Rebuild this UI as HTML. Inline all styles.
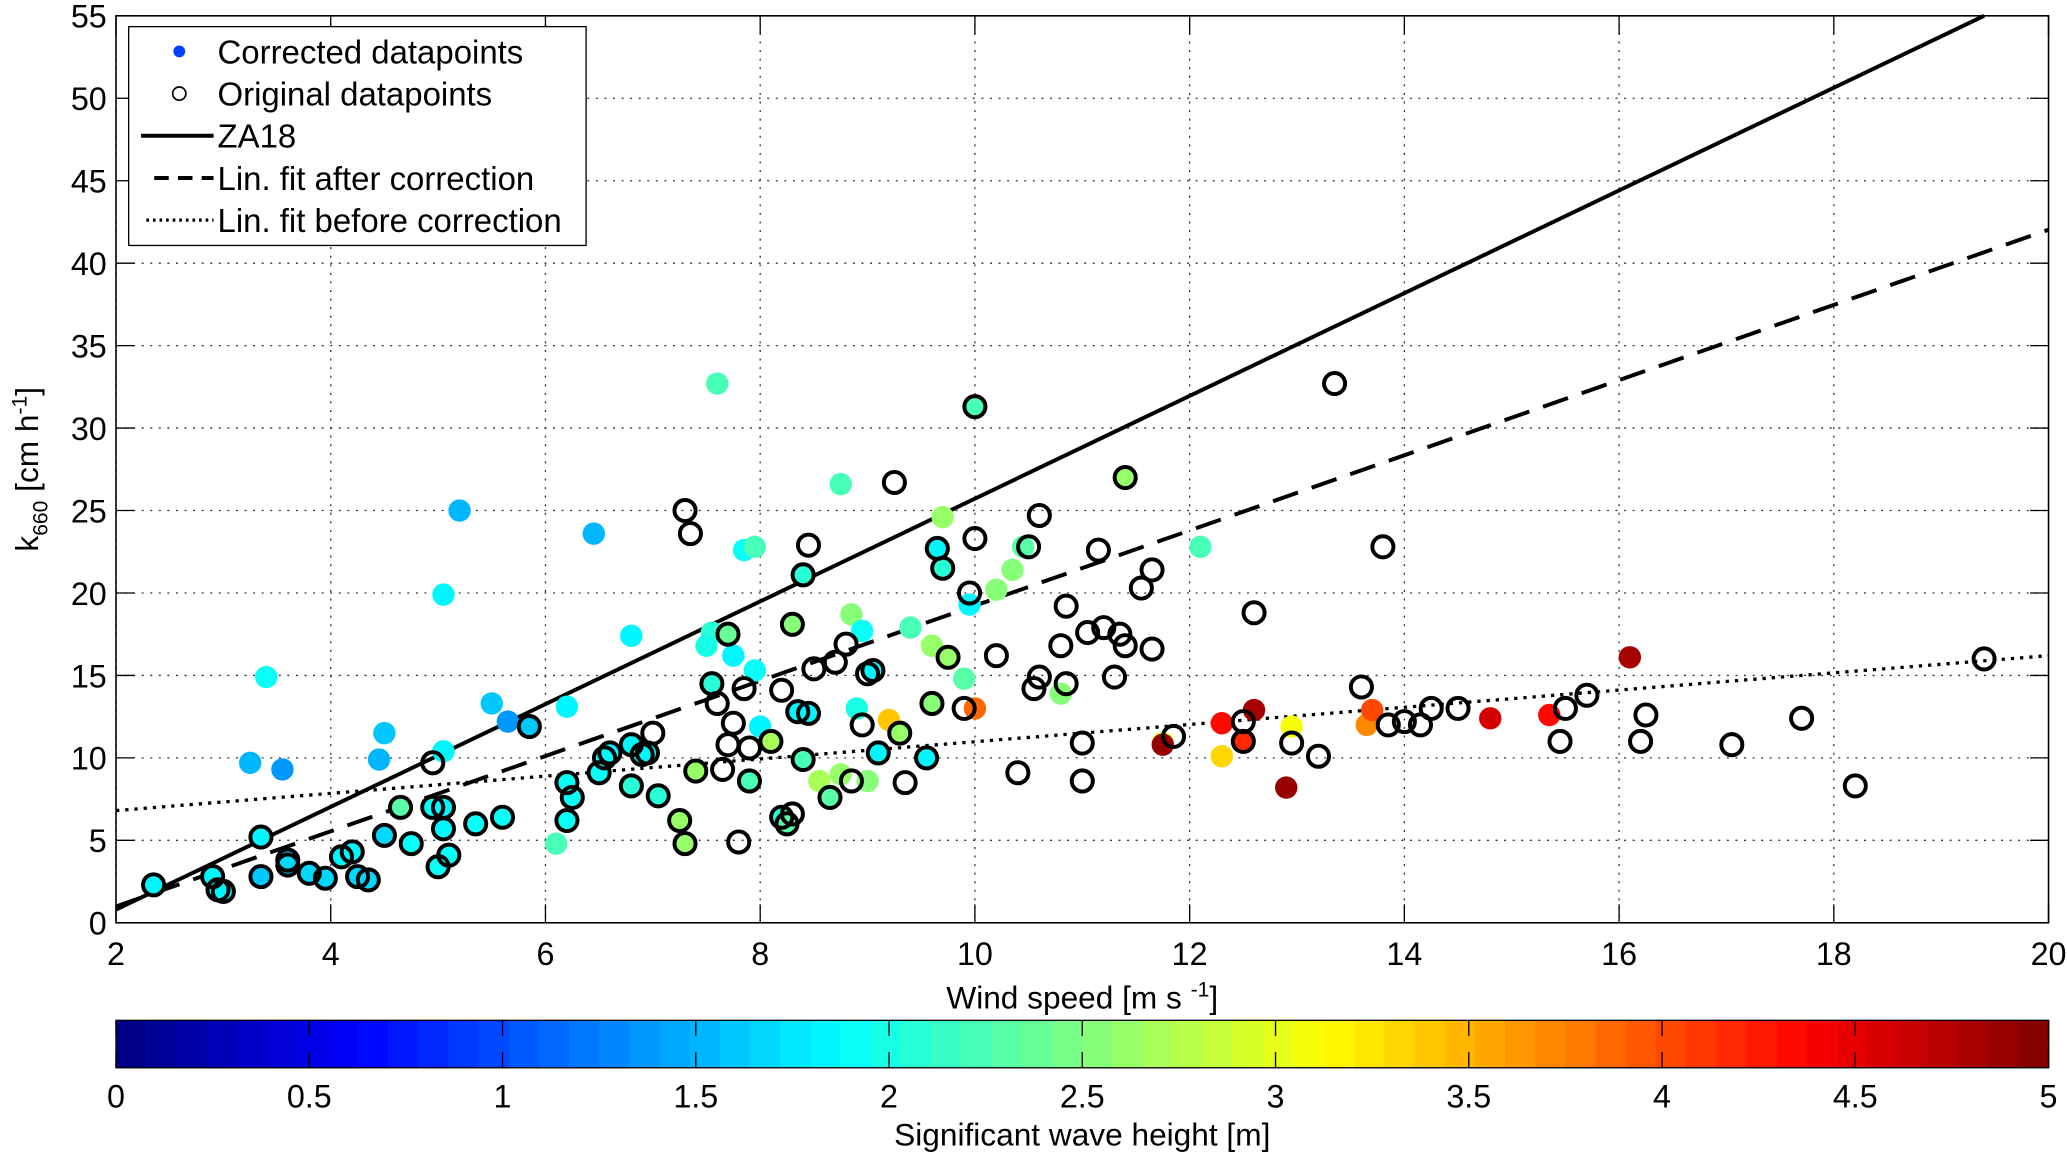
<!DOCTYPE html>
<html><head><meta charset="utf-8"><style>html,body{margin:0;padding:0;background:#fff}svg{display:block}text{font-family:"Liberation Sans",Arial,sans-serif;fill:#000}</style></head>
<body>
<svg id="chart" width="2067" height="1154" viewBox="0 0 1568 875.4" xmlns="http://www.w3.org/2000/svg">
<g id="grid"></g>
<g id="lines"></g>
<g id="filled"></g>
<g id="open"></g>
<g id="axes"></g>
<g id="cbar"></g>
<g>
<rect x="97.6" y="20.2" width="347" height="166" fill="#fff" stroke="#000" stroke-width="1"/>
<circle cx="136" cy="39" r="4.5" fill="#0040ff"/>
<text x="165" y="48" font-size="25">Corrected datapoints</text>
<circle cx="136" cy="71" r="5" fill="none" stroke="#000" stroke-width="1.3"/>
<text x="165" y="80" font-size="25">Original datapoints</text>
<line x1="107" y1="103" x2="162" y2="103" stroke="#000" stroke-width="3"/>
<text x="165" y="112" font-size="25">ZA18</text>
<line x1="117" y1="135" x2="162" y2="135" stroke="#000" stroke-width="3" stroke-dasharray="11,7"/>
<text x="165" y="144" font-size="25">Lin. fit after correction</text>
<line x1="111" y1="167" x2="162" y2="167" stroke="#000" stroke-width="2.5" stroke-dasharray="2,3"/>
<text x="165" y="176" font-size="25">Lin. fit before correction</text>
</g>
</svg>
<script>
const xTicks=[2,4,6,8,10,12,14,16,18,20];
const yTicks=[0,5,10,15,20,25,30,35,40,45,50,55];
const cTicks=[0,0.5,1,1.5,2,2.5,3,3.5,4,4.5,5];
const cTickLabels=["0","0.5","1","1.5","2","2.5","3","3.5","4","4.5","5"];
const lineSlopes=[3.115,2.28,0.522];
const lineIntercepts=[-5.43,-3.57,5.76];
const origX=[2.35,2.9,2.95,3.0,3.35,3.35,3.6,3.6,3.8,3.95,4.1,4.2,4.25,4.35,4.5,4.65,4.75,4.95,4.95,5.0,5.05,5.05,5.1,5.35,5.6,5.85,6.2,6.2,6.25,6.5,6.55,6.6,6.8,6.8,6.9,6.95,7.0,7.05,7.25,7.3,7.3,7.35,7.4,7.55,7.6,7.65,7.7,7.7,7.75,7.8,7.85,7.9,7.9,8.1,8.2,8.2,8.25,8.3,8.3,8.35,8.4,8.4,8.45,8.45,8.5,8.65,8.7,8.8,8.85,8.95,9.0,9.05,9.1,9.25,9.3,9.35,9.55,9.6,9.65,9.7,9.75,9.9,9.95,10.0,10.0,10.2,10.4,10.5,10.55,10.6,10.6,10.8,10.85,10.85,11.0,11.0,11.05,11.15,11.2,11.3,11.35,11.4,11.4,11.55,11.65,11.65,11.85,12.5,12.5,12.6,12.95,13.2,13.35,13.6,13.8,13.85,14.0,14.15,14.25,14.5,15.45,15.5,15.7,16.2,16.25,17.05,17.7,18.2,19.4];
const origY=[2.3,2.8,2.0,1.9,5.2,2.8,3.5,3.8,3.0,2.7,4.0,4.3,2.8,2.6,5.3,7.0,4.8,9.7,7.0,3.4,7.0,5.7,4.1,6.0,6.4,11.9,8.5,6.2,7.6,9.1,10.0,10.3,10.8,8.3,10.2,10.3,11.5,7.7,6.2,4.8,25.0,23.6,9.2,14.5,13.3,9.3,10.8,17.5,12.1,4.9,14.2,10.6,8.6,11.0,6.4,14.1,6.0,6.6,18.1,12.8,21.1,9.9,12.7,22.9,15.4,7.6,15.8,16.9,8.6,12.0,15.1,15.3,10.3,26.7,11.5,8.5,10.0,13.3,22.7,21.5,16.1,13.0,20.0,23.3,31.3,16.2,9.1,22.8,14.2,24.7,14.9,16.8,19.2,14.5,10.9,8.6,17.6,22.6,17.9,14.9,17.5,16.8,27.0,20.3,21.4,16.6,11.3,12.2,11.0,18.8,10.9,10.1,32.7,14.3,22.8,12.0,12.2,12.0,13.0,13.0,11.0,13.0,13.8,11.0,12.6,10.8,12.4,8.3,16.0];
const corrX=[2.35,2.9,2.95,3.0,3.35,3.35,3.6,3.6,3.8,3.95,4.1,4.2,4.25,4.35,4.5,4.65,4.75,4.95,5.0,5.05,5.05,5.1,5.35,5.6,5.85,6.2,6.2,6.25,6.5,6.55,3.25,3.4,3.55,4.45,4.5,5.05,5.05,5.2,5.5,5.65,6.1,6.2,6.45,6.8,7.6,7.55,7.5,7.75,7.85,7.95,7.95,8.0,8.75,8.85,8.95,8.9,9.2,9.0,8.75,8.55,9.4,9.6,9.7,9.9,9.95,10.0,10.2,10.35,10.45,10.8,11.75,11.75,12.1,12.3,12.3,12.5,12.6,12.9,12.95,13.65,13.7,14.8,15.35,16.1,7.25,7.3,7.4,7.55,7.7,7.9,8.1,8.2,8.25,8.3,8.35,8.4,8.4,8.45,8.65,9.05,9.1,9.3,9.55,9.6,9.65,9.7,9.75,10.0,11.4,6.6,6.8,6.9,6.95,7.05,6.8];
const corrY=[2.3,2.8,2.0,1.9,5.2,2.8,3.5,3.8,3.0,2.7,4.0,4.3,2.8,2.6,5.3,7.0,4.8,7.0,3.4,7.0,5.7,4.1,6.0,6.4,11.9,8.5,6.2,7.6,9.1,10.0,9.7,14.9,9.3,9.9,11.5,19.9,10.4,25.0,13.3,12.2,4.8,13.1,23.6,17.4,32.7,17.6,16.8,16.2,22.6,22.8,15.3,11.9,26.6,18.7,17.7,13.0,12.3,8.6,9.0,8.6,17.9,16.8,24.6,14.8,19.3,13.0,20.2,21.4,22.8,13.9,10.9,10.8,22.8,12.1,10.1,11.0,12.9,8.2,11.9,12.0,12.9,12.4,12.6,16.1,6.2,4.8,9.2,14.5,17.5,8.6,11.0,6.4,6.0,18.1,12.8,9.9,21.1,12.7,7.6,15.3,10.3,11.5,10.0,13.3,22.7,21.5,16.1,31.3,27.0,10.3,8.3,10.2,10.3,7.7,10.8];
const corrH=[1.8,1.8,1.8,1.8,1.8,1.6,1.7,1.7,1.7,1.7,1.8,1.8,1.7,1.7,1.7,2.3,1.9,1.9,1.9,1.8,1.8,1.9,1.9,1.9,1.6,1.9,1.9,1.9,1.9,1.9,1.5,1.9,1.4,1.5,1.6,1.8,1.8,1.5,1.6,1.4,2.2,1.8,1.5,1.8,2.2,2.1,2.0,1.8,1.9,2.2,1.9,1.8,2.2,2.5,1.9,2.0,3.4,2.5,2.6,2.7,2.2,2.6,2.6,2.3,1.8,3.9,2.5,2.5,2.3,2.5,3.0,4.9,2.2,4.3,3.3,4.2,4.8,4.9,3.1,3.7,4.0,4.6,4.3,4.8,2.6,2.6,2.6,2.1,2.4,2.2,2.7,2.1,2.3,2.5,1.8,2.2,2.1,1.8,2.3,1.8,1.8,2.6,1.8,2.5,1.8,2.1,2.6,2.2,2.6,1.8,2.1,1.8,1.8,2.1,1.8];

const NS="http://www.w3.org/2000/svg";
const X0=88,X1=1554,Y0=700,Y1=12;
const sx=v=>X0+(v-2)/(20-2)*(X1-X0);
const sy=v=>Y0-(v/55)*(Y0-Y1);
const CB0=88,CB1=1554,CBT=774,CBB=810;
const sc=v=>CB0+v/5*(CB1-CB0);
function mk(tag,attrs,parent){const e=document.createElementNS(NS,tag);for(const k in attrs)e.setAttribute(k,attrs[k]);parent.appendChild(e);return e;}
function jet(t){t=Math.max(0,Math.min(1,t));const f=x=>Math.round(255*Math.max(0,Math.min(1,1.5-Math.abs(4*t-x))));return `rgb(${f(3)},${f(2)},${f(1)})`;}
function jetH(h){const i=Math.min(63,Math.floor(h/5*64));return jet((i+0.5)/64);}
const grid=document.getElementById('grid'),axes=document.getElementById('axes'),lines=document.getElementById('lines');
xTicks.forEach(v=>{
 const g=mk('line',{x1:sx(v),x2:sx(v),y1:Y1,y2:Y0,stroke:'#333','stroke-width':1,'stroke-dasharray':'1.5,5'},grid);
 
 
 mk('line',{x1:sx(v),x2:sx(v),y1:Y0,y2:Y0-14,stroke:'#000','stroke-width':1},axes);
 mk('line',{x1:sx(v),x2:sx(v),y1:Y1,y2:Y1+14,stroke:'#000','stroke-width':1},axes);
 const t=mk('text',{x:sx(v),y:732,'font-size':24.5,'text-anchor':'middle'},axes);t.textContent=v;
 
 
});
yTicks.forEach(v=>{
 const g=mk('line',{x1:X0,x2:X1,y1:sy(v),y2:sy(v),stroke:'#333','stroke-width':1,'stroke-dasharray':'1.5,5'},grid);
 
 
 mk('line',{x1:X0,x2:X0+14,y1:sy(v),y2:sy(v),stroke:'#000','stroke-width':1},axes);
 mk('line',{x1:X1,x2:X1-14,y1:sy(v),y2:sy(v),stroke:'#000','stroke-width':1},axes);
 const t=mk('text',{x:X0-7,y:sy(v)+9,'font-size':24.5,'text-anchor':'end'},axes);t.textContent=v;
 
 
});
mk('rect',{x:X0,y:Y1,width:X1-X0,height:Y0-Y1,fill:'none',stroke:'#000','stroke-width':1.2},axes);
const xl=mk('text',{x:821,y:765,'font-size':24,'text-anchor':'middle'},axes);
xl.innerHTML='Wind speed [m s <tspan dy="-9" font-size="16">-1</tspan><tspan dy="9">]</tspan>';


const yl=mk('text',{transform:'translate(29,356) rotate(-90)','font-size':24,'text-anchor':'middle'},axes);
yl.innerHTML='k<tspan dy="7" font-size="16">660</tspan><tspan dy="-7"> [cm h</tspan><tspan dy="-9" font-size="16">-1</tspan><tspan dy="9">]</tspan>';


const styles=[{'stroke-width':3},{'stroke-width':3,'stroke-dasharray':'20,11'},{'stroke-width':2.5,'stroke-dasharray':'2.5,4.5'}];
const lnames=['za18-line','lin-fit-after-line','lin-fit-before-line'];
lineSlopes.forEach((m,i)=>{
 const b=lineIntercepts[i];let xa=2,xb=20;
 if(m*xb+b>55)xb=(55-b)/m;
 const l=mk('line',Object.assign({x1:sx(xa),y1:sy(m*xa+b),x2:sx(xb),y2:sy(m*xb+b),stroke:'#000'},styles[i]),lines);
 
 
});
const filled=document.getElementById('filled');
corrX.forEach((x,i)=>{
 const c=mk('circle',{cx:sx(x),cy:sy(corrY[i]),r:8.5,fill:jetH(corrH[i])},filled);
 
 
});
const open=document.getElementById('open');
origX.forEach((x,i)=>{
 const c=mk('circle',{cx:sx(x),cy:sy(origY[i]),r:8,fill:'none',stroke:'#000','stroke-width':3},open);
 
 
});
const cb=document.getElementById('cbar');
for(let i=0;i<64;i++){
 mk('rect',{x:CB0+i*(CB1-CB0)/64,y:CBT,width:(CB1-CB0)/64+0.6,height:CBB-CBT,fill:jet((i+0.5)/64)},cb);
}
mk('rect',{x:CB0,y:CBT,width:CB1-CB0,height:CBB-CBT,fill:'none',stroke:'#000','stroke-width':1},cb);
cTicks.forEach((v,i)=>{
 mk('line',{x1:sc(v),x2:sc(v),y1:CBT,y2:CBT+12,stroke:'#000','stroke-width':1},cb);
 mk('line',{x1:sc(v),x2:sc(v),y1:CBB,y2:CBB-12,stroke:'#000','stroke-width':1},cb);
 const t=mk('text',{x:sc(v),y:840,'font-size':24.5,'text-anchor':'middle'},cb);t.textContent=cTickLabels[i];
 
 
});
const ct=mk('text',{x:821,y:869,'font-size':24,'text-anchor':'middle'},cb);ct.textContent='Significant wave height [m]';


</script>
</body></html>
